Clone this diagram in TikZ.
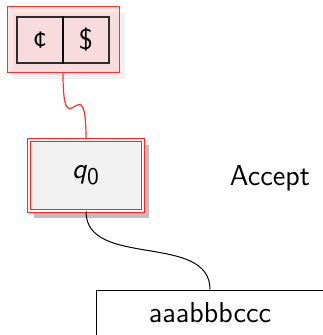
\documentclass[tikz,border=0pt]{standalone}
\usepackage{tikz}
\usetikzlibrary{shadows, backgrounds, calc}
\definecolor{stackfill}{RGB}{255, 196, 196}
\definecolor{stackline}{RGB}{250, 50, 50}
\definecolor{statefill}{RGB}{241, 241, 241}

\begin{document}
\begin{tikzpicture}[x=0.5pt, y=-0.5pt, font=\sffamily\Large,
    stackbox/.style={draw=stackline, line width=0.5pt, fill=stackfill, fill opacity=0.45, text opacity=1,
      minimum width=56pt, minimum height=33pt, inner sep=0pt,
      drop shadow={shadow xshift=3pt, shadow yshift=-3pt, fill=gray!12, fill opacity=1, draw=none}},
    cellbox/.style={draw=black, draw opacity=0.8, line width=0.7pt, minimum width=23pt, minimum height=23pt, inner sep=0pt},
    statebox/.style={draw=red!85, double=white, double distance=1.1pt, line width=0.5pt, fill=statefill,
      minimum width=57pt, minimum height=35.5pt},
    tapebox/.style={draw=black, line width=0.5pt, minimum width=114pt, minimum height=23pt, inner sep=0pt}]
  \useasboundingbox (0,0) rectangle (322,335);
  % stack
  \node[stackbox] (stack) at (63,40) {};
  \node[cellbox] (bottom) at (40,40) {\textcent};
  \node[cellbox] (top) at (86,40) {\$};
  % control
  \node[statebox] (q0) at (86,175.5) {\textsl{q}\textsubscript{\large 0}};
  \begin{scope}[on background layer]
    \fill[gray!50] ($(q0.south west)+(5,6)$) rectangle ($(q0.north east)+(5,6)$);
  \end{scope}
  \node (accept) at (270,178) {Accept};
  % tape
  \node[tapebox] (tape) at (210,313) {aaabbbccc};
  \draw[stackline, line width=0.6pt] (stack.south) .. controls +(0,80) and +(0,-80) .. (q0.north);
  \draw[line width=0.5pt] (q0.south) to[out=-90, in=90] (tape.north);
\end{tikzpicture}
\end{document}
